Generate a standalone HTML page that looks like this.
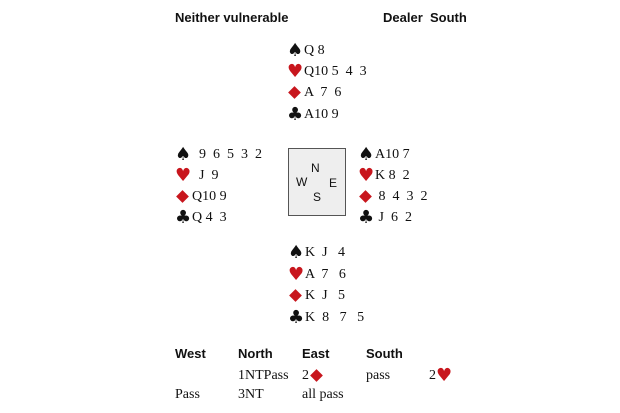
<!DOCTYPE html>
<html><head><meta charset="utf-8"><style>
body{margin:0;width:620px;height:413px;background:#fff;position:relative;overflow:hidden;font-family:"Liberation Serif",serif;font-size:14px;color:#111}
.t{position:absolute;white-space:pre;line-height:16px}
.h{font-family:"Liberation Sans",sans-serif;font-weight:bold;font-size:13px}
.r{color:#c8161d}
.s{display:inline-block;width:17px;font-family:"DejaVu Sans",sans-serif;font-size:18px;line-height:16px;vertical-align:top}
.d{display:inline-block;width:17px;height:16px;position:relative;vertical-align:top}
.d:before{content:"";position:absolute;left:3px;top:3px;width:9px;height:9px;background:#c8161d;transform:rotate(45deg)}
#box{position:absolute;left:288px;top:148px;width:56px;height:66px;background:#eee;border:1px solid #555;font-family:"Liberation Sans",sans-serif;font-size:12px}
#box span{position:absolute}
</style></head><body>
<div class="t h" style="left:175px;top:10px">Neither vulnerable</div>
<div class="t h" style="left:383px;top:10px">Dealer  South</div>

<div class="t" style="left:287px;top:43px"><span class="s">♠</span>Q 8</div>
<div class="t" style="left:287px;top:64px"><span class="s r">♥</span>Q10 5  4  3</div>
<div class="t" style="left:287px;top:85px"><span class="d"></span>A  7  6</div>
<div class="t" style="left:287px;top:107px"><span class="s">♣</span>A10 9</div>

<div class="t" style="left:175px;top:147px"><span class="s">♠</span>  9  6  5  3  2</div>
<div class="t" style="left:175px;top:168px"><span class="s r">♥</span>  J  9</div>
<div class="t" style="left:175px;top:189px"><span class="d"></span>Q10 9</div>
<div class="t" style="left:175px;top:210px"><span class="s">♣</span>Q 4  3</div>

<div class="t" style="left:358px;top:147px"><span class="s">♠</span>A10 7</div>
<div class="t" style="left:358px;top:168px"><span class="s r">♥</span>K 8  2</div>
<div class="t" style="left:358px;top:189px"><span class="d"></span> 8  4  3  2</div>
<div class="t" style="left:358px;top:210px"><span class="s">♣</span> J  6  2</div>

<div id="box"><span style="left:22px;top:12px">N</span><span style="left:7px;top:26px">W</span><span style="left:40px;top:27px">E</span><span style="left:24px;top:41px">S</span></div>

<div class="t" style="left:288px;top:245px"><span class="s">♠</span>K  J   4</div>
<div class="t" style="left:288px;top:267px"><span class="s r">♥</span>A  7   6</div>
<div class="t" style="left:288px;top:288px"><span class="d"></span>K  J   5</div>
<div class="t" style="left:288px;top:310px"><span class="s">♣</span>K  8   7   5</div>

<div class="t h" style="left:175px;top:346px">West</div>
<div class="t h" style="left:238px;top:346px">North</div>
<div class="t h" style="left:302px;top:346px">East</div>
<div class="t h" style="left:366px;top:346px">South</div>
<div class="t" style="left:238px;top:368px">1NTPass</div>
<div class="t" style="left:302px;top:368px">2<span class="d"></span></div>
<div class="t" style="left:366px;top:368px">pass</div>
<div class="t" style="left:429px;top:368px">2<span class="s r">♥</span></div>
<div class="t" style="left:175px;top:387px">Pass</div>
<div class="t" style="left:238px;top:387px">3NT</div>
<div class="t" style="left:302px;top:387px">all pass</div>
</body></html>
